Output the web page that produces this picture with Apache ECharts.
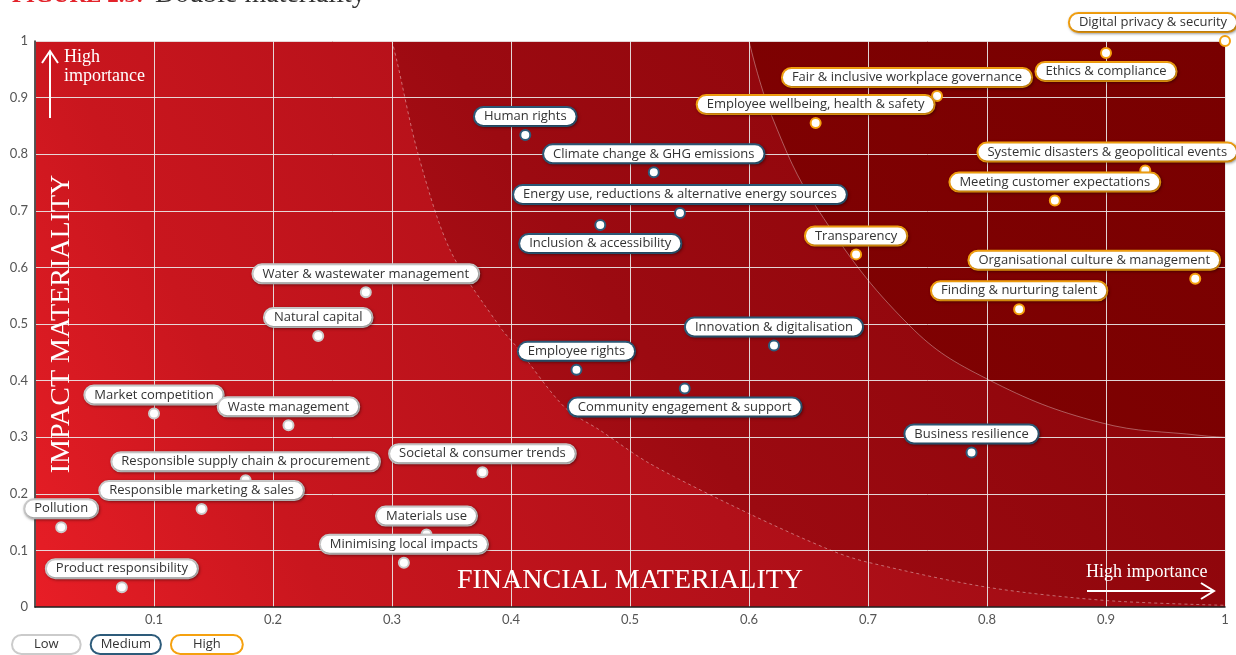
<!DOCTYPE html>
<html>
<head>
<meta charset="utf-8">
<script src="https://cdn.jsdelivr.net/npm/echarts@6/dist/echarts.min.js"></script>
<style>
html, body { margin: 0; padding: 0; background: #fff; }
#chart { width: 1236px; height: 655px; }
</style>
</head>
<body>
<div id="chart"></div>
<script>
// topics per importance level: financial materiality (x) and impact materiality (y)
const highTopics = ['Digital privacy & security', 'Ethics & compliance', 'Fair & inclusive workplace governance',
    'Employee wellbeing, health & safety', 'Systemic disasters & geopolitical events', 'Meeting customer expectations',
    'Transparency', 'Organisational culture & management', 'Finding & nurturing talent'];
const highFinancial = [1.0, 0.9, 0.758, 0.656, 0.933, 0.857, 0.690, 0.975, 0.827];
const highImpact = [1.0, 0.979, 0.903, 0.855, 0.771, 0.718, 0.623, 0.580, 0.526];

const mediumTopics = ['Human rights', 'Climate change & GHG emissions', 'Energy use, reductions & alternative energy sources',
    'Inclusion & accessibility', 'Innovation & digitalisation', 'Employee rights', 'Community engagement & support',
    'Business resilience'];
const mediumFinancial = [0.412, 0.520, 0.542, 0.475, 0.621, 0.455, 0.546, 0.787];
const mediumImpact = [0.834, 0.768, 0.696, 0.675, 0.462, 0.419, 0.386, 0.273];

const lowTopics = ['Water & wastewater management', 'Natural capital', 'Market competition', 'Waste management',
    'Responsible supply chain & procurement', 'Responsible marketing & sales', 'Pollution', 'Product responsibility',
    'Societal & consumer trends', 'Materials use', 'Minimising local impacts'];
const lowFinancial = [0.278, 0.238, 0.100, 0.213, 0.177, 0.140, 0.022, 0.073, 0.376, 0.329, 0.310];
const lowImpact = [0.556, 0.479, 0.342, 0.321, 0.224, 0.173, 0.141, 0.035, 0.238, 0.128, 0.078];

// edges of the shaded zones
const outerZoneX = [0.3, 0.304, 0.322, 0.349, 0.391, 0.405, 0.445, 0.475, 0.517, 0.6, 0.669, 0.7, 0.8, 0.9, 1.0];
const outerZoneY = [1.0, 0.966, 0.8, 0.63, 0.494, 0.459, 0.353, 0.312, 0.253, 0.165, 0.1, 0.079, 0.035, 0.0115, 0.003];
const innerZoneX = [0.6, 0.619, 0.658, 0.735, 0.8, 0.895, 0.98, 1.0];
const innerZoneY = [1.0, 0.868, 0.702, 0.497, 0.403, 0.326, 0.303, 0.3];

const colors = { Low: '#cbcbcb', Medium: '#2d5b7a', High: '#f5a10f' };
const SANS = '"Open Sans", Lato, sans-serif';
const SERIF = '"Liberation Serif", "DejaVu Serif", serif';

// labels that don't sit straight above their dot
const labelPlace = {
    'Digital privacy & security': { offset: [-72, 0] },
    'Fair & inclusive workplace governance': { offset: [-30, 0] },
    'Systemic disasters & geopolitical events': { offset: [-38, 0] },
    'Organisational culture & management': { offset: [-101, 0] },
    'Ethics & compliance': { position: 'bottom' },
    'Inclusion & accessibility': { position: 'bottom' },
    'Community engagement & support': { position: 'bottom' }
};

function pts(names, xs, ys) {
    return names.map(function (n, i) {
        let p = { name: n, value: [xs[i], ys[i]] };
        if (labelPlace[n]) p.label = labelPlace[n];
        return p;
    });
}
function zip(xs, ys) {
    return xs.map(function (x, i) { return [x, ys[i]]; });
}

function scatterSeries(level, data) {
    return {
        name: level,
        type: 'scatter',
        z: 5,
        data: data,
        symbol: 'circle',
        symbolSize: 10,
        itemStyle: { color: '#fff', borderColor: colors[level], borderWidth: 2, opacity: 1 },
        label: {
            show: true,
            formatter: '{b}',
            position: 'top',
            distance: 4,
            color: '#333',
            fontFamily: SANS,
            fontSize: 13,
            lineHeight: 15,
            backgroundColor: '#fff',
            borderColor: colors[level],
            borderWidth: 2,
            borderRadius: 10,
            padding: [1, 9],
            shadowColor: 'rgba(0,0,0,0.35)',
            shadowBlur: 3,
            shadowOffsetX: 1,
            shadowOffsetY: 1
        },
        emphasis: { disabled: true }
    };
}

const chart = echarts.init(document.getElementById('chart'));

const option = {
    animation: false,
    grid: {
        left: 35, right: 11, top: 41, bottom: 48,
        show: true,
        borderWidth: 0,
        backgroundColor: new echarts.graphic.LinearGradient(0, 1, 1, 0, [
            { offset: 0, color: '#e81e26' },
            { offset: 0.2, color: '#c9161e' },
            { offset: 0.5, color: '#b21019' },
            { offset: 1, color: '#8c070d' }
        ])
    },
    xAxis: {
        type: 'value', min: 0, max: 1, interval: 0.1, z: 3,
        name: 'FINANCIAL MATERIALITY',
        nameLocation: 'middle',
        nameGap: -26,
        nameTextStyle: { color: '#fff', fontFamily: SERIF, fontSize: 28, verticalAlign: 'middle' },
        axisLine: { lineStyle: { color: '#222', width: 1.5 } },
        axisTick: { show: false },
        axisLabel: { color: '#555', fontFamily: 'Lato, sans-serif', fontSize: 13, margin: 6, showMinLabel: false },
        splitLine: { lineStyle: { color: 'rgba(235,235,235,0.9)', width: 1 } }
    },
    yAxis: {
        type: 'value', min: 0, max: 1, interval: 0.1, z: 3,
        name: 'IMPACT MATERIALITY',
        nameLocation: 'middle',
        nameRotate: 90,
        nameGap: -27,
        nameTextStyle: { color: '#fff', fontFamily: SERIF, fontSize: 28, verticalAlign: 'middle' },
        axisLine: { show: true, lineStyle: { color: '#222', width: 1.5 } },
        axisTick: { show: false },
        axisLabel: { color: '#555', fontFamily: 'Lato, sans-serif', fontSize: 13, margin: 7 },
        splitLine: { lineStyle: { color: 'rgba(235,235,235,0.9)', width: 1 } }
    },
    legend: {
        left: 7, top: 634, padding: 0,
        itemWidth: 0, itemHeight: 0, itemGap: 4,
        selectedMode: false,
        textStyle: {
            color: '#333', fontFamily: SANS, fontSize: 13, lineHeight: 15,
            backgroundColor: '#fff', borderWidth: 2, borderRadius: 10
        },
        data: [
            { name: 'Low', textStyle: { borderColor: colors.Low, padding: [1, 21] } },
            { name: 'Medium', textStyle: { borderColor: colors.Medium, padding: [1, 9] } },
            { name: 'High', textStyle: { borderColor: colors.High, padding: [1, 21] } }
        ]
    },
    graphic: [
        { type: 'text', left: 12, top: -15, style: { text: 'FIGURE 2.5:', font: 'bold 23px ' + SERIF, fill: '#e3232b' } },
        { type: 'text', left: 155, top: -19, style: { text: 'Double materiality', font: '28px ' + SERIF, fill: '#333' } },
        { type: 'line', shape: { x1: 50, y1: 118, x2: 50, y2: 51 }, style: { stroke: '#fff', lineWidth: 2 }, z: 10 },
        { type: 'polyline', shape: { points: [[42, 63], [50, 51], [58, 63]] }, style: { stroke: '#fff', lineWidth: 2, fill: null }, z: 10 },
        { type: 'text', left: 64, top: 48, z: 10,
          style: { text: 'High\nimportance', font: '18px ' + SERIF, fill: '#fff', lineHeight: 19 } },
        { type: 'text', left: 1086, top: 563, z: 10,
          style: { text: 'High importance', font: '18px ' + SERIF, fill: '#fff' } },
        { type: 'line', shape: { x1: 1087, y1: 591, x2: 1213, y2: 591 }, style: { stroke: '#fff', lineWidth: 2 }, z: 10 },
        { type: 'polyline', shape: { points: [[1201, 583], [1214, 591], [1201, 599]] }, style: { stroke: '#fff', lineWidth: 2, fill: null }, z: 10 }
    ],
    series: [
        {
            type: 'line', z: 1, silent: true, smooth: 0.3, symbol: 'none',
            data: zip(outerZoneX, outerZoneY),
            lineStyle: { color: 'rgba(255,255,255,0.4)', width: 1, type: [3, 3] },
            areaStyle: {
                origin: 'end', opacity: 1,
                color: new echarts.graphic.LinearGradient(0, 1, 1, 0, [
                    { offset: 0, color: '#b8121a' },
                    { offset: 0.35, color: '#9c0a11' },
                    { offset: 1, color: '#860307' }
                ])
            }
        },
        {
            type: 'line', z: 1, silent: true, smooth: 0.4, symbol: 'none',
            data: zip(innerZoneX, innerZoneY),
            lineStyle: { color: 'rgba(255,255,255,0.35)', width: 1 },
            areaStyle: {
                origin: 'end', opacity: 1,
                color: new echarts.graphic.LinearGradient(0, 1, 1, 0, [
                    { offset: 0, color: '#820203' },
                    { offset: 1, color: '#780000' }
                ])
            }
        },
        scatterSeries('Low', pts(lowTopics, lowFinancial, lowImpact)),
        scatterSeries('Medium', pts(mediumTopics, mediumFinancial, mediumImpact)),
        scatterSeries('High', pts(highTopics, highFinancial, highImpact))
    ]
};

chart.setOption(option);
</script>
</body>
</html>
